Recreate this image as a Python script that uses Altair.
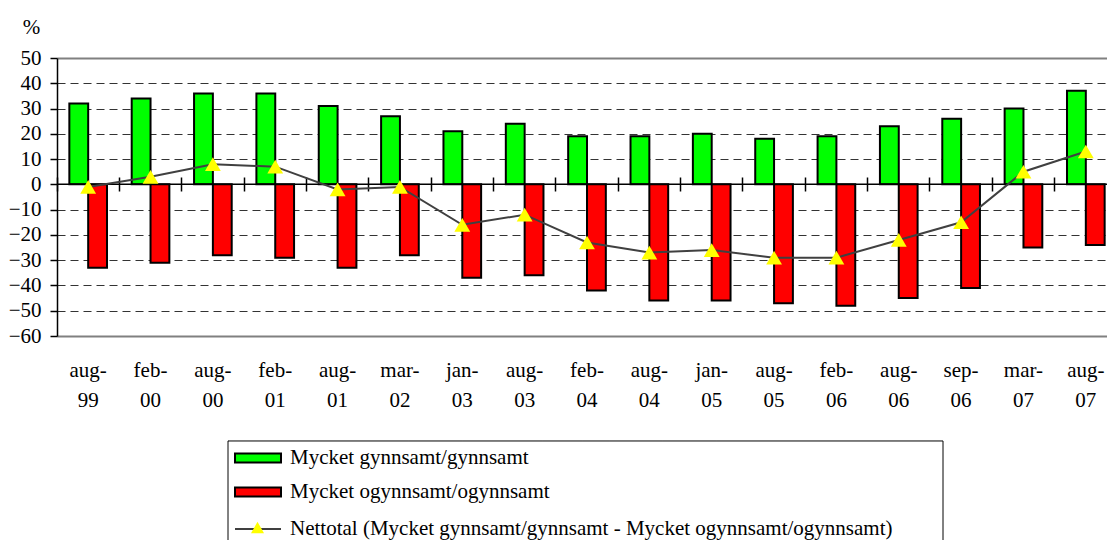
import altair as alt
import pandas as pd

# ---- data ----
kategorier = ["aug-99", "feb-00", "aug-00", "feb-01", "aug-01", "mar-02", "jan-03", "aug-03",
              "feb-04", "aug-04", "jan-05", "aug-05", "feb-06", "aug-06", "sep-06", "mar-07", "aug-07"]
gynnsamt = [32, 34, 36, 36, 31, 27, 21, 24, 19, 19, 20, 18, 19, 23, 26, 30, 37]
ogynnsamt = [-33, -31, -28, -29, -33, -28, -37, -36, -42, -46, -46, -47, -48, -45, -41, -25, -24]
nettotal = [-1, 3, 8, 7, -2, -1, -16, -12, -23, -27, -26, -29, -29, -22, -15, 5, 13]
serier = ["Mycket gynnsamt/gynnsamt",
          "Mycket ogynnsamt/ogynnsamt",
          "Nettotal (Mycket gynnsamt/gynnsamt - Mycket ogynnsamt/ogynnsamt)"]
stapelfarger = ["#00FF00", "#FF0000"]
linjefarg = "#404040"
punktfarg = "#FFFF00"
y_varden = list(range(-60, 51, 10))
nollinje = [0]

NET = serier[2]
PUNKT = "Nettotal"          # key of the triangle marker (kept apart from the line legend)
RAM = "ram"                 # key of the legend frame
FONT = "Liberation Serif"
FS = 21

df_bars = pd.DataFrame({
    "kategori": kategorier * 2,
    "serie": [serier[0]] * len(kategorier) + [serier[1]] * len(kategorier),
    "varde": gynnsamt + ogynnsamt,
})
df_net = pd.DataFrame({
    "kategori": kategorier,
    "linje": [NET] * len(kategorier),
    "punkt": [PUNKT] * len(kategorier),
    "varde": nettotal,
})
df_noll = pd.DataFrame({"varde": nollinje, "ram": [RAM]})

PAD_IN = 0.396
x_scale = alt.Scale(domain=kategorier, range=[0, 1060], paddingInner=PAD_IN, paddingOuter=PAD_IN / 2)
y_scale = alt.Scale(domain=[-60, 50], nice=False, zero=False)

LX, LY = 171, 383
# legend for the bars (rows 1-2)
leg_fill = alt.Legend(
    title=None, orient="none", legendX=LX, legendY=LY - 13, direction="vertical",
    labelFont=FONT, labelFontSize=FS, labelColor="black", labelOffset=8, labelLimit=1000,
    padding=6, rowPadding=0,
    symbolSize=2116, symbolType="M-1,-0.196H1V0.196H-1Z",
    symbolStrokeColor="black", symbolStrokeWidth=2, symbolOpacity=1, zindex=1,
)
# legend for the net line (row 3)
leg_line = alt.Legend(
    title=None, orient="none", legendX=LX, legendY=LY + 58, direction="vertical",
    labelFont=FONT, labelFontSize=FS, labelColor="black", labelOffset=8, labelLimit=1000,
    padding=6,
    symbolType="stroke", symbolSize=2116, symbolStrokeWidth=2,
    symbolStrokeColor=linjefarg, zindex=0,
)
# triangle drawn on top of the line symbol
leg_tri = alt.Legend(
    title=None, orient="none", legendX=187.5, legendY=456.5, direction="vertical",
    labelExpr="''", padding=6,
    symbolType="triangle-up", symbolSize=170, symbolFillColor=punktfarg,
    symbolStrokeWidth=0, symbolOpacity=1, zindex=2,
)
# the frame around the legend block (a 715 x 104 outline symbol)
leg_ram = alt.Legend(
    title=None, orient="none", legendX=LX - 0.5, legendY=LY - 306, direction="vertical",
    labelExpr="''", padding=0,
    symbolType="M-1,-0.1455H1V0.1455H-1Z", symbolSize=511225,
    symbolStrokeColor="black", symbolStrokeWidth=1, symbolFillColor="transparent",
    symbolOpacity=1, zindex=0,
)

border = "datum.value === 50 || datum.value === -60"
y_axis = alt.Axis(
    orient="left", values=y_varden, title="%", titleAngle=0, titleX=-26, titleY=-25,
    titleAlign="center", titleBaseline="alphabetic", titleFont=FONT, titleFontSize=FS,
    titleFontWeight="normal", titleColor="black",
    labelFont=FONT, labelFontSize=FS, labelColor="black", labelPadding=9,
    tickSize=7, tickColor="black", tickWidth=1.5,
    domainColor="black", domainWidth=1.5,
    grid=True,
    gridColor={"condition": {"test": border, "value": "#808080"}, "value": "#333333"},
    gridDash={"condition": {"test": border, "value": []}, "value": [8, 5]},
    gridWidth={"condition": {"test": border, "value": 2}, "value": 1.2},
    gridOpacity={"condition": {"test": "datum.value === 0", "value": 0}, "value": 1},
)
x_axis_lab = alt.Axis(
    orient="bottom", title=None, domain=False, ticks=False, labelAngle=0,
    labelFont=FONT, labelFontSize=FS, labelColor="black", labelPadding=23,
    labelBaseline="top", labelLineHeight=30, labelOverlap=False,
    labelExpr="[slice(datum.label, 0, 4), slice(datum.label, 4)]",
)
# category separators crossing the zero line (placed half a gap before each band)
x_axis_ticks = alt.Axis(
    orient="bottom", title=None, labels=False, domain=False, ticks=True,
    bandPosition=-(PAD_IN / 2) / (1 - PAD_IN), tickSize=14, tickColor="black",
    tickWidth=1.5, offset=-159,
)

Y = alt.Y("varde:Q", scale=y_scale, axis=y_axis, stack=None)

bars = alt.Chart(df_bars).mark_bar(stroke="black", strokeWidth=2).encode(
    x=alt.X("kategori:N", scale=x_scale, axis=x_axis_lab, sort=kategorier),
    xOffset=alt.XOffset("serie:N", scale=alt.Scale(domain=serier[:2], paddingInner=0, paddingOuter=0)),
    y=Y,
    y2=alt.datum(0),
    fill=alt.Fill("serie:N", scale=alt.Scale(domain=serier[:2], range=stapelfarger), legend=leg_fill),
)
zero = alt.Chart(df_noll).mark_rule(color="black", strokeWidth=1.5).encode(
    y=Y,
    strokeDash=alt.StrokeDash("ram:N", scale=alt.Scale(domain=[RAM], range=[[1, 0]]), legend=leg_ram),
)
line = alt.Chart(df_net).mark_line(strokeWidth=2).encode(
    x=alt.X("kategori:N", scale=x_scale, axis=x_axis_ticks, sort=kategorier),
    y=Y,
    stroke=alt.Stroke("linje:N", scale=alt.Scale(domain=[NET], range=[linjefarg]), legend=leg_line),
)
points = alt.Chart(df_net).mark_point(filled=True, size=250, opacity=1, strokeWidth=0,
                                      color=punktfarg).encode(
    x=alt.X("kategori:N", scale=x_scale, axis=None, sort=kategorier),
    y=Y,
    shape=alt.Shape("punkt:N", scale=alt.Scale(domain=[PUNKT], range=["triangle-up"]), legend=leg_tri),
)

chart = alt.layer(bars, zero, line, points).resolve_axis(x="independent").properties(
    width=1050, height=278,
    padding={"left": 49, "top": 50, "right": 0, "bottom": 214},
    autosize=alt.AutoSizeParams(type="none"),
    background="white",
).configure_view(stroke=None).configure_axis(
    labelFont=FONT, titleFont=FONT
).configure_legend(labelFont=FONT)

chart.save("out.html", embed_options={"renderer": "svg", "actions": False})
